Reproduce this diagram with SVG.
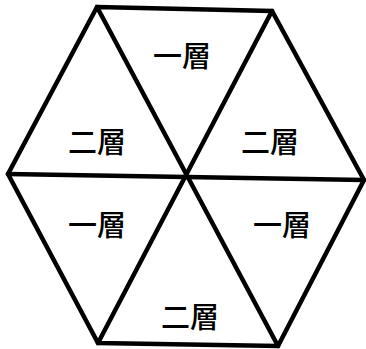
<svg xmlns="http://www.w3.org/2000/svg" width="366" height="349" viewBox="0 0 366 349">
<style>
.e{stroke:#000;stroke-width:4.5;fill:none;stroke-linejoin:miter;stroke-linecap:round}
.t{font-family:"Noto Sans CJK JP","Noto Sans CJK TC",sans-serif;font-size:29px;font-weight:500;fill:#000;text-anchor:middle;dominant-baseline:central}
</style>
<rect width="366" height="349" fill="#fff"/>
<g id="connectors">
<polygon class="e" points="97,7 272,11 364,180 278,346 98,343 8,174"/>
<line class="e" x1="97" y1="7" x2="278" y2="346"/>
<line class="e" x1="272" y1="11" x2="98" y2="343"/>
<line class="e" x1="8" y1="174" x2="364" y2="180"/>
</g>
<g id="n1"><text class="t" x="182" y="54">一層</text></g>
<g id="n2"><text class="t" x="97" y="140">二層</text></g>
<g id="n3"><text class="t" x="270" y="140">二層</text></g>
<g id="n4"><text class="t" x="97" y="223">一層</text></g>
<g id="n5"><text class="t" x="282" y="223">一層</text></g>
<g id="n6"><text class="t" x="190" y="315">二層</text></g>
</svg>
